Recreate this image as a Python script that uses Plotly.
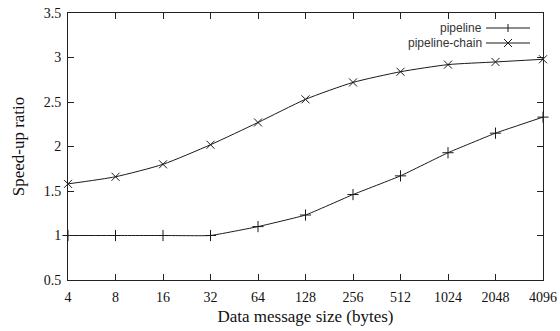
import plotly.graph_objects as go

sizes = ["4", "8", "16", "32", "64", "128", "256", "512", "1024", "2048", "4096"]
pipeline = [1.0, 1.0, 1.0, 1.0, 1.10, 1.23, 1.46, 1.67, 1.93, 2.15, 2.33]
pipeline_chain = [1.58, 1.66, 1.80, 2.02, 2.27, 2.53, 2.72, 2.84, 2.92, 2.95, 2.98]
y_ticks = [0.5, 1, 1.5, 2, 2.5, 3, 3.5]
y_labels = ["0.5", "1", "1.5", "2", "2.5", "3", "3.5"]

LINE = "#1a1a1a"
SERIF = "Liberation Serif, Times New Roman, serif"
SANS = "Liberation Sans, Arial, sans-serif"

fig = go.Figure()
fig.add_trace(go.Scatter(
    x=sizes, y=pipeline, mode="lines+markers", name="pipeline",
    line=dict(color=LINE, width=1, shape="spline", smoothing=0.3),
    marker=dict(symbol="cross-thin", size=8, line=dict(color=LINE, width=1)),
    showlegend=False, cliponaxis=False,
))
fig.add_trace(go.Scatter(
    x=sizes, y=pipeline_chain, mode="lines+markers", name="pipeline-chain",
    line=dict(color=LINE, width=1, shape="spline", smoothing=0.6),
    marker=dict(symbol="x-thin", size=8, line=dict(color=LINE, width=1)),
    showlegend=False, cliponaxis=False,
))

axis_common = dict(
    showline=True, linecolor="#222", linewidth=1, mirror="ticks",
    ticks="inside", ticklen=6, tickcolor="#222", tickwidth=1,
    showgrid=False, zeroline=False, automargin=False,
    tickfont=dict(family=SERIF, size=14, color="#111"),
)
fig.update_xaxes(type="category", categoryorder="array", categoryarray=sizes,
                 range=[0, len(sizes) - 1], ticklabelstandoff=4,
                 title=dict(text="Data message size (bytes)", font=dict(family=SERIF, size=17, color="#111"), standoff=6),
                 **axis_common)
fig.update_yaxes(range=[0.5, 3.5], tickvals=y_ticks, ticktext=y_labels,
                 ticklabelstandoff=3,
                 title=dict(text="Speed-up ratio", font=dict(family=SERIF, size=17, color="#111"), standoff=14),
                 **axis_common)

# custom legend (text right-aligned, key on the right, gnuplot style)
legend_items = [("pipeline", "plus"), ("pipeline-chain", "x")]
shapes = []
annotations = []
W, H = 560, 331
l, r, t, b = 68, 17, 13, 51
pw, ph = W - l - r, H - t - b

def px(xp):
    return (xp - l) / pw

def py(yp):
    return 1 - (yp - t) / ph

for i, (name, sym) in enumerate(legend_items):
    yc = 28 + i * 15
    annotations.append(dict(text=name, xref="paper", yref="paper", x=px(484), y=py(yc),
                            xanchor="right", yanchor="middle", showarrow=False,
                            font=dict(family=SANS, size=12, color="#333")))
    shapes.append(dict(type="line", xref="paper", yref="paper", x0=px(486), x1=px(530),
                       y0=py(yc), y1=py(yc), line=dict(color=LINE, width=1)))
    if sym == "plus":
        shapes.append(dict(type="line", xref="paper", yref="paper", x0=px(508), x1=px(508),
                           y0=py(yc - 4), y1=py(yc + 4), line=dict(color=LINE, width=1)))
    else:
        shapes.append(dict(type="line", xref="paper", yref="paper", x0=px(504), x1=px(512),
                           y0=py(yc - 4), y1=py(yc + 4), line=dict(color=LINE, width=1)))
        shapes.append(dict(type="line", xref="paper", yref="paper", x0=px(504), x1=px(512),
                           y0=py(yc + 4), y1=py(yc - 4), line=dict(color=LINE, width=1)))

fig.update_layout(
    width=W, height=H,
    margin=dict(l=l, r=r, t=t, b=b, autoexpand=False),
    paper_bgcolor="white", plot_bgcolor="white",
    shapes=shapes, annotations=annotations,
)

fig.write_html("out.html")
